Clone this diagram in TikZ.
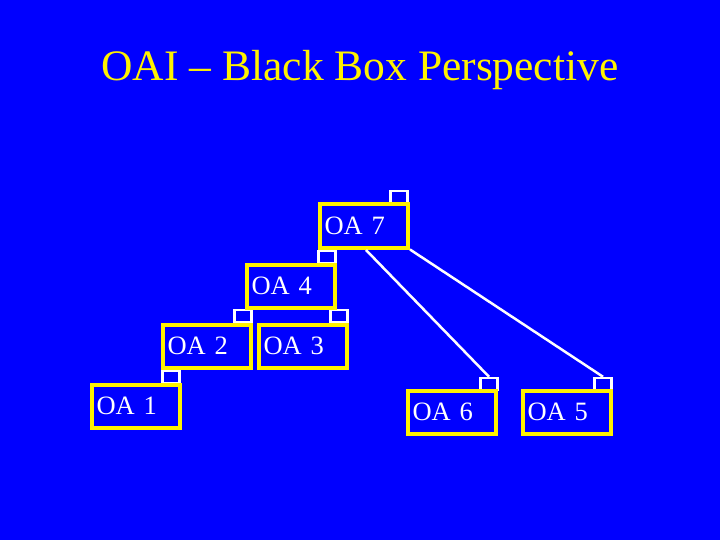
\documentclass[tikz,border=0pt]{standalone}
\usepackage{fontspec}
\setmainfont{Liberation Serif}
\begin{document}
\begin{tikzpicture}[x=1pt,y=-1pt,
  oa/.style={draw=yellow,line width=4pt,fill=blue,minimum width=88pt,minimum height=43pt,inner sep=0pt,text=white,font=\fontsize{26.5}{29}\selectfont,align=left,text width=79pt},
  port/.style={draw=white,line width=2.5pt,minimum width=17pt,minimum height=12pt,inner sep=0pt},
  wire/.style={draw=white,line width=2.5pt}]
\fill[blue] (0,0) rectangle (720,540);
\useasboundingbox (0,0) rectangle (720,540);
\node[text=yellow,font=\fontsize{43.5}{47}\selectfont] (title) at (360,70) {OAI -- Black Box Perspective};
\node[port] (p7) at (399,197) {};
\node[port] (p74) at (327,257) {};
\node[port] (p42) at (243,316) {};
\node[port] (p43) at (339,316) {};
\node[port] (p21) at (171,377) {};
\node[port] (p6) at (489,384) {};
\node[port] (p5) at (603,384) {};
\node[oa] (oa7) at (364,226) {OA 7};
\node[oa] (oa4) at (291,286) {OA 4};
\node[oa] (oa2) at (207,346) {OA 2};
\node[oa] (oa3) at (303,346) {OA 3};
\node[oa] (oa1) at (136,406) {OA 1};
\node[oa] (oa6) at (452,412) {OA 6};
\node[oa] (oa5) at (567,412) {OA 5};
\draw[wire] (366,250) -- (p6.north);
\draw[wire] (oa7.south east) -- (p5.north);
\end{tikzpicture}
\end{document}
